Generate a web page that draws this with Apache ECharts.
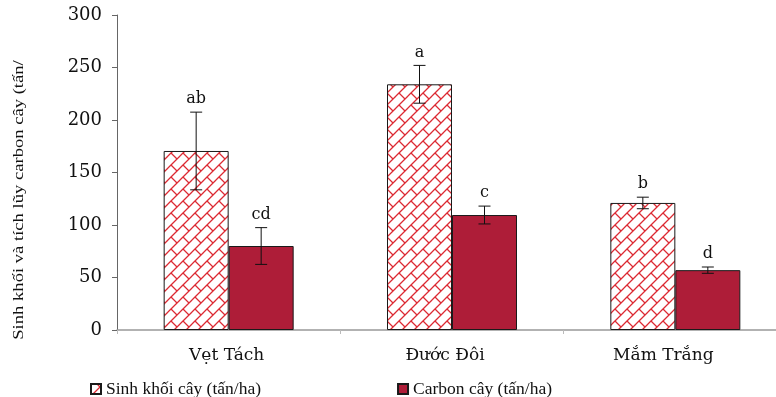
<!DOCTYPE html>
<html>
<head>
<meta charset="utf-8">
<script src="https://cdn.jsdelivr.net/npm/echarts@6/dist/echarts.min.js"></script>
<style>html,body{margin:0;padding:0;background:#fff;}#c{width:776px;height:397px;}</style>
</head>
<body>
<div id="c"></div>
<script>
const categories = ['Vẹt Tách', 'Đước Đôi', 'Mắm Trắng'];
const biomass = [170.5, 234, 121];
const biomassErr = [37, 18, 5.5];
const biomassLetters = ['ab', 'a', 'b'];
const carbon = [80, 109.5, 57];
const carbonErr = [17.5, 8.5, 3];
const carbonLetters = ['cd', 'c', 'd'];
const yTicks = [0, 50, 100, 150, 200, 250, 300];
const seriesNames = ['Sinh khối cây (tấn/ha)', 'Carbon cây (tấn/ha)'];
const yTitle = 'Sinh khối và tích lũy carbon cây (tấn/';

const BAR_W = 65;
const SERIF = '"Liberation Serif", "Times New Roman", serif';
const WIDE_SERIF = '"DejaVu Serif", serif';
// label shift (px to the left) for each category label, as rich-text right padding
const labelPad = [4, 14, 24];

// brick-like diagonal pattern
function makePattern() {
  const s = 12;
  const cv = document.createElement('canvas');
  cv.width = s; cv.height = s;
  const ctx = cv.getContext('2d');
  ctx.fillStyle = '#ffffff';
  ctx.fillRect(0, 0, s, s);
  ctx.strokeStyle = '#dc2a33';
  ctx.lineWidth = 1.3;
  for (let dx = -s; dx <= s; dx += s) {
    for (let dy = -s; dy <= s; dy += s) {
      ctx.beginPath();
      ctx.moveTo(dx + s, dy + 0); ctx.lineTo(dx + 0, dy + s);
      ctx.moveTo(dx + 3, dy + 9); ctx.lineTo(dx + 9, dy + 15);
      ctx.stroke();
    }
  }
  return cv;
}
const pattern = { image: makePattern(), repeat: 'repeat' };

function errData(vals, errs) {
  return vals.map((v, i) => [i, v, errs[i]]);
}
const errLetters = { 2: biomassLetters, 3: carbonLetters };

function errRender(offset) {
  return function (params, api) {
    const idx = api.value(0), v = api.value(1), e = api.value(2);
    const letter = errLetters[params.seriesIndex][params.dataIndex];
    const top = api.coord([idx, v + e]);
    const bot = api.coord([idx, v - e]);
    const x = top[0] + offset;
    const cap = 6;
    const st = { stroke: '#111', lineWidth: 1 };
    return {
      type: 'group',
      children: [
        { type: 'line', shape: { x1: x, y1: top[1], x2: x, y2: bot[1] }, style: st },
        { type: 'line', shape: { x1: x - cap, y1: top[1], x2: x + cap, y2: top[1] }, style: st },
        { type: 'line', shape: { x1: x - cap, y1: bot[1], x2: x + cap, y2: bot[1] }, style: st },
        { type: 'text', x: x, y: top[1] - 5, style: { text: letter, font: '16px ' + WIDE_SERIF, fill: '#111', textAlign: 'center', textVerticalAlign: 'bottom' } }
      ]
    };
  };
}

const rich = {};
labelPad.forEach((p, i) => {
  rich['c' + i] = { fontFamily: WIDE_SERIF, fontSize: 17, color: '#111', padding: [0, p, 0, 0] };
});

const chart = echarts.init(document.getElementById('c'));
chart.setOption({
  animation: false,
  backgroundColor: '#fff',
  grid: { left: 117, top: 15, width: 670, bottom: 67, containLabel: false, outerBoundsMode: 'none' },
  legend: {
    data: seriesNames,
    left: 85, top: 375,
    itemWidth: 10, itemHeight: 10, itemGap: 136,
    icon: 'rect',
    textStyle: { fontFamily: SERIF, fontSize: 17.5, color: '#111' }
  },
  xAxis: {
    type: 'category',
    data: categories,
    axisLine: { lineStyle: { color: '#999', width: 1.5 } },
    axisTick: { show: true, length: 4, lineStyle: { color: '#bbb' } },
    axisLabel: {
      margin: 17,
      formatter: function (val, i) { return '{c' + i + '|' + val + '}'; },
      rich: rich
    }
  },
  yAxis: {
    type: 'value',
    min: 0, max: 300, interval: 50,
    axisLine: { show: true, lineStyle: { color: '#666' } },
    axisTick: { show: true, length: 5, lineStyle: { color: '#666' } },
    splitLine: { show: false },
    axisLabel: { fontFamily: WIDE_SERIF, fontSize: 18, color: '#111', margin: 15 }
  },
  graphic: [{
    type: 'text', x: 19, y: 200, rotation: Math.PI / 2, scaleX: 1.24,
    style: { text: yTitle, font: '15px ' + SERIF, fill: '#111', textAlign: 'center', textVerticalAlign: 'middle' }
  }],
  series: [
    { name: seriesNames[0], type: 'bar', data: biomass, barWidth: BAR_W, barGap: '0%',
      itemStyle: { color: pattern, borderColor: '#1a1a1a', borderWidth: 1 } },
    { name: seriesNames[1], type: 'bar', data: carbon, barWidth: BAR_W, barGap: '0%',
      itemStyle: { color: '#ae1d38', borderColor: '#1a1a1a', borderWidth: 1 } },
    { type: 'custom', name: 'errB', renderItem: errRender(-BAR_W / 2), data: errData(biomass, biomassErr), z: 10 },
    { type: 'custom', name: 'errC', renderItem: errRender(BAR_W / 2), data: errData(carbon, carbonErr), z: 10 }
  ]
});
</script>
</body>
</html>
